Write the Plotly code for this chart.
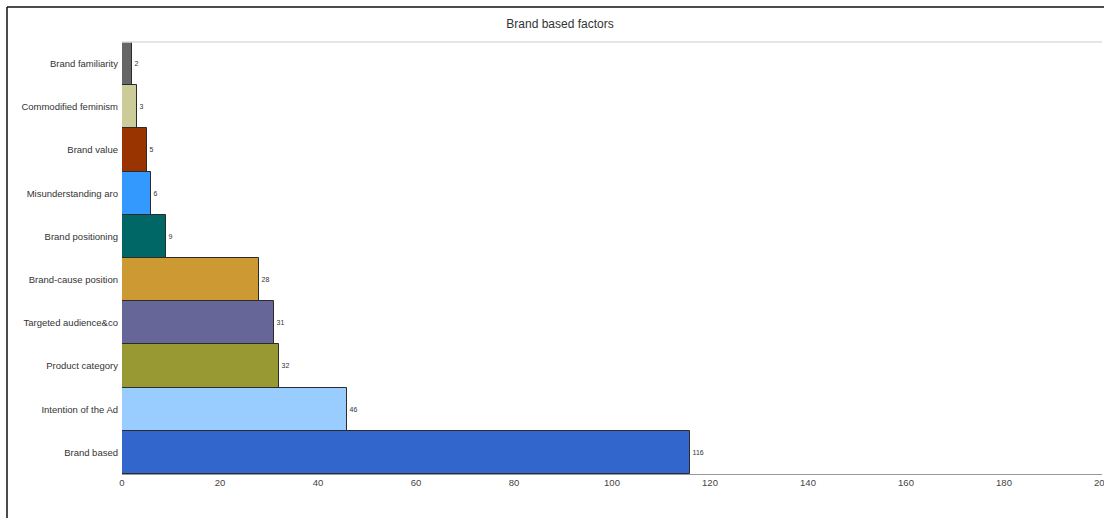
import plotly.graph_objects as go

# Categories, listed top to bottom
factors = [
    "Brand familiarity",
    "Commodified feminism",
    "Brand value",
    "Misunderstanding aro",
    "Brand positioning",
    "Brand-cause position",
    "Targeted audience&co",
    "Product category",
    "Intention of the Ad",
    "Brand based",
]
counts = [2, 3, 5, 6, 9, 28, 31, 32, 46, 116]
bar_colors = [
    "#666666", "#CCCC99", "#993300", "#3399FF", "#006666",
    "#CC9933", "#666699", "#999933", "#99CCFF", "#3366CC",
]
x_ticks = [0, 20, 40, 60, 80, 100, 120, 140, 160, 180, 200]

W, H = 1104, 518
L, R, T, B = 122, 2, 42, 44
pw, ph = W - L - R, H - T - B

fig = go.Figure(
    go.Bar(
        x=counts,
        y=factors,
        orientation="h",
        marker=dict(color=bar_colors, line=dict(color="#2b2b2b", width=1)),
        text=[str(c) for c in counts],
        textposition="outside",
        textfont=dict(size=7, color="#333333"),
        cliponaxis=False,
        hoverinfo="x+y",
    )
)

fig.update_layout(
    width=W,
    height=H,
    margin=dict(l=L, r=R, t=T, b=B, pad=0, autoexpand=False),
    paper_bgcolor="white",
    plot_bgcolor="white",
    bargap=0,
    showlegend=False,
    font=dict(family="Liberation Sans, Arial, sans-serif", color="#333333"),
    title=dict(
        text="Brand based factors",
        x=560 / W,
        xref="container",
        xanchor="center",
        y=1 - 24 / H,
        yref="container",
        yanchor="middle",
        font=dict(size=12, color="#333333"),
    ),
)

fig.update_xaxes(
    range=[0, 200],
    tickvals=x_ticks,
    ticktext=[str(v) for v in x_ticks],
    showgrid=False,
    zeroline=False,
    showline=True,
    linecolor="#999999",
    linewidth=1,
    ticks="",
    automargin=False,
    ticklabeloverflow="allow",
    tickfont=dict(size=9.5, color="#444444"),
)
fig.update_yaxes(
    autorange="reversed",
    showgrid=False,
    zeroline=False,
    showline=False,
    ticks="",
    automargin=False,
    ticklabelstandoff=3,
    tickfont=dict(size=9.5, color="#333333"),
)

# outer frame (left and top edges) and the header separator
x_left = (7 - L) / pw
y_top = (H - B - 7) / ph
y_bot = -(B) / ph
fig.add_shape(type="line", xref="paper", yref="paper",
              x0=x_left, x1=x_left, y0=y_bot, y1=y_top,
              line=dict(color="#111111", width=1.5))
fig.add_shape(type="line", xref="paper", yref="paper",
              x0=x_left, x1=(W - L) / pw, y0=y_top, y1=y_top,
              line=dict(color="#111111", width=1.5))
fig.add_shape(type="line", xref="paper", yref="paper",
              x0=0, x1=1, y0=1, y1=1,
              line=dict(color="#dddddd", width=1.5))

fig.write_html("out.html")
